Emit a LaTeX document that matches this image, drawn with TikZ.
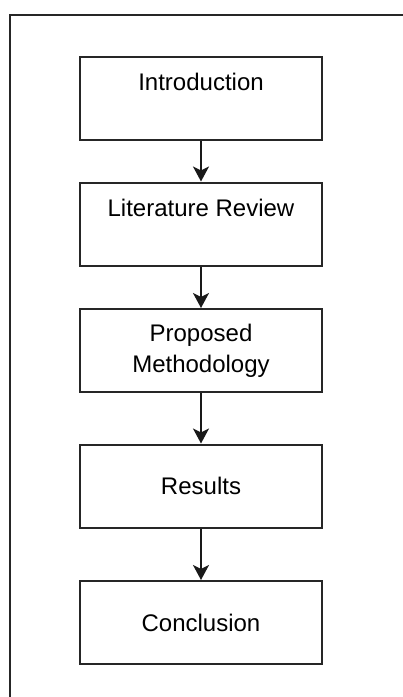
\documentclass[tikz,border=0pt]{standalone}
\usepackage{fontspec}
\setmainfont{Liberation Sans}
\usetikzlibrary{arrows.meta}
\begin{document}
\begin{tikzpicture}[x=1pt,y=-1pt,
  stepbox/.style={draw=black!85,line width=2pt,minimum width=242pt,minimum height=83pt,inner sep=0pt},
  lbl/.style={font=\fontsize{24}{31}\selectfont,align=center,inner sep=0pt},
  flow/.style={draw=black!90,line width=2pt,-{Stealth[length=15pt,width=16pt,inset=4pt]}}]
\useasboundingbox (0,0) rectangle (403,697);
\draw[draw=black!85,line width=2pt] (10,700) -- (10,15) -- (406,15);
\node[stepbox] (intro) at (201,98.5) {};
\node[lbl] (tintro) at ([yshift=-26pt]intro.north) {Introduction};
\node[stepbox] (lit) at (201,224) {};
\node[lbl] (tlit) at ([yshift=-26pt]lit.north) {Literature Review};
\node[stepbox] (prop) at (201,350.5) {};
\node[lbl] (tprop) at (prop.center) {Proposed\\Methodology};
\node[stepbox] (res) at (201,486) {};
\node[lbl] (tres) at (res.center) {Results};
\node[stepbox] (conc) at (201,622.5) {};
\node[lbl] (tconc) at (conc.center) {Conclusion};
\draw[flow] (intro.south) -- (lit.north);
\draw[flow] (lit.south) -- (prop.north);
\draw[flow] (prop.south) -- (res.north);
\draw[flow] (res.south) -- (conc.north);
\end{tikzpicture}
\end{document}
